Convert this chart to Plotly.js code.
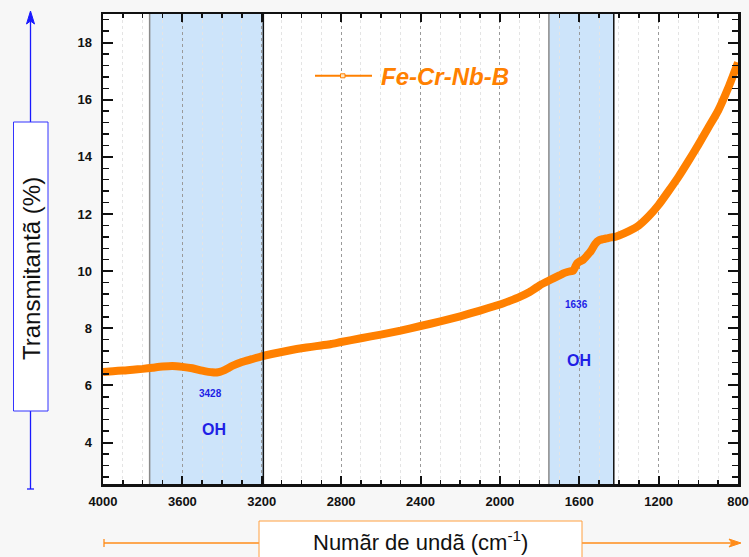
<!DOCTYPE html>
<html>
<head>
<meta charset="utf-8">
<script src="https://cdn.plot.ly/plotly-3.0.1.min.js"></script>
<style>html,body{margin:0;padding:0;background:#f7f7f7;}#chart{width:749px;height:557px;}</style>
</head>
<body>
<div id="chart"></div>
<script>
// ---- data ----
const wavenumber = [4000,3950,3900,3850,3800,3750,3700,3650,3600,3550,3500,3450,3420,3400,3370,3350,3300,3250,3200,3150,3100,3050,3000,2950,2900,2850,2800,2700,2600,2500,2400,2300,2200,2100,2000,1950,1900,1850,1800,1750,1700,1680,1660,1640,1630,1620,1610,1600,1580,1560,1540,1520,1500,1480,1460,1440,1420,1400,1350,1300,1250,1200,1150,1100,1050,1000,950,900,850,800];
const transmittance = [6.47,6.50,6.52,6.55,6.58,6.62,6.66,6.68,6.65,6.60,6.52,6.46,6.46,6.50,6.60,6.68,6.82,6.92,7.02,7.10,7.17,7.24,7.30,7.35,7.40,7.45,7.52,7.65,7.78,7.92,8.08,8.24,8.42,8.62,8.83,8.96,9.10,9.27,9.50,9.68,9.85,9.92,9.97,10.00,10.02,10.15,10.28,10.33,10.40,10.55,10.72,10.95,11.08,11.12,11.15,11.18,11.20,11.25,11.40,11.60,11.92,12.32,12.80,13.30,13.85,14.42,15.02,15.62,16.40,17.30];
const seriesName = 'Fe-Cr-Nb-B';
const bandStart = [3765, 1753];
const bandEnd = [3192, 1426];
const peakLabels = ['3428', '1636'];
const groupLabels = ['OH', 'OH'];
const xTitle = 'Numãr de undã (cm<sup>-1</sup>)';
const yTitle = 'Transmitantã (%)';

// ---- layout helpers (pixel -> paper) ----
const W = 749, H = 557, ML = 103, MR = 11, MT = 14, MB = 73;
const PW = W - ML - MR, PH = H - MT - MB;
const px = v => (v - ML) / PW;
const py = v => (H - MB - v) / PH;

const FONT = 'Liberation Sans, Arial, sans-serif';
const ORANGE = '#ff8000';
const BLUE = '#1f1fe6';
const ARROW_BLUE = '#1a1aff';
const ARROW_OR = '#ff8c1a';

const shapes = [];
const annotations = [];

bandStart.forEach((s, i) => {
  shapes.push({type:'rect', xref:'x', yref:'paper', x0:s, x1:bandEnd[i], y0:0, y1:1,
    fillcolor:'#cde4fa', line:{width:0}, layer:'below'});
  shapes.push({type:'line', xref:'x', yref:'paper', x0:s, x1:s, y0:0, y1:1,
    line:{color:'#8a8a8a', width:1.5}, layer:'below'});
  shapes.push({type:'line', xref:'x', yref:'paper', x0:bandEnd[i], x1:bandEnd[i], y0:0, y1:1,
    line:{color:'#111', width:1.5}, layer:'above'});
});

const seg = (x0, y0, x1, y1, color) => ({type:'line', xref:'paper', yref:'paper',
  x0:px(x0), x1:px(x1), y0:py(y0), y1:py(y1), line:{color:color, width:1.3}});
const tri = (pts, color) => ({type:'path', xref:'paper', yref:'paper',
  path: 'M' + pts.map(p => px(p[0]) + ',' + py(p[1])).join(' L') + ' Z',
  fillcolor:color, line:{color:color, width:1}});

// y-title box and arrow
shapes.push(seg(30.5, 411, 30.5, 489, ARROW_BLUE));
shapes.push(seg(27, 489, 34, 489, ARROW_BLUE));
shapes.push(seg(30.5, 122, 30.5, 20, ARROW_BLUE));
shapes.push(tri([[30.5, 11], [26.5, 24], [30.5, 21], [34.5, 24]], ARROW_BLUE));
shapes.push({type:'rect', xref:'paper', yref:'paper', x0:px(13.5), x1:px(48), y0:py(411), y1:py(122), fillcolor:'#ffffff', line:{color:'#3333ff', width:1}});
annotations.push({xref:'paper', yref:'paper', x:px(31), y:py(269), xanchor:'center', yanchor:'middle', text:yTitle, textangle:-90, showarrow:false,
  font:{family:FONT, size:24, color:'#111'}});

// x-title box and arrow
shapes.push(seg(104, 543, 259, 543, ARROW_OR));
shapes.push(seg(104, 539, 104, 547, ARROW_OR));
shapes.push(seg(582, 543, 733, 543, ARROW_OR));
shapes.push(tri([[741, 543], [729, 539], [732, 543], [729, 547]], ARROW_OR));
shapes.push({type:'rect', xref:'paper', yref:'paper', x0:px(259), x1:px(582), y0:py(521), y1:py(562), fillcolor:'#ffffff', line:{color:'#ffa040', width:1}});
annotations.push({xref:'paper', yref:'paper', x:px(420), y:py(541), xanchor:'center', yanchor:'middle', text:xTitle, showarrow:false,
  font:{family:FONT, size:22, color:'#111'}});

// legend (drawn manually)
shapes.push({type:'line', xref:'paper', yref:'paper', x0:px(315), x1:px(372), y0:py(75.7), y1:py(75.7), line:{color:ORANGE, width:2}});
shapes.push({type:'rect', xref:'paper', yref:'paper', x0:px(340.5), x1:px(345), y0:py(77.8), y1:py(73.8), fillcolor:'#ffe6c2', line:{color:ORANGE, width:1}});
annotations.push({xref:'paper', yref:'paper', x:px(379), y:py(76.5), xanchor:'left', yanchor:'middle', text:seriesName, showarrow:false,
  font:{family:FONT, size:24, color:ORANGE, weight:'bold', style:'italic'}});

// peak labels
const peakPos = [[3460, 5.72], [1616, 8.85]];
const ohPos = [[3440, 4.46], [1600, 6.87]];
peakLabels.forEach((t, i) => {
  annotations.push({xref:'x', yref:'y', x:peakPos[i][0], y:peakPos[i][1], text:t, showarrow:false,
    font:{family:FONT, size:10, color:BLUE, weight:'bold'}});
  annotations.push({xref:'x', yref:'y', x:ohPos[i][0], y:ohPos[i][1], text:groupLabels[i], showarrow:false,
    font:{family:FONT, size:16, color:BLUE, weight:'bold'}});
});

const trace = {x: wavenumber, y: transmittance, type:'scatter', mode:'lines', name: seriesName,
  line:{color:ORANGE, width:8, shape:'spline', smoothing:0.6}, showlegend:false};

const tickfont = {family:FONT, size:13, color:'#111', weight:'bold'};
const layout = {
  width: W, height: H,
  margin:{l:ML, r:MR, t:MT, b:MB, pad:0},
  paper_bgcolor:'#f7f7f7', plot_bgcolor:'#ffffff',
  showlegend:false,
  xaxis:{range:[4000, 800], tick0:0, dtick:400, ticks:'inside', ticklen:8, tickwidth:2, tickcolor:'#111',
    showline:true, linewidth:2.5, linecolor:'#111', mirror:'ticks', zeroline:false,
    showgrid:true, gridcolor:'#9a9a9a', gridwidth:1, griddash:'3px,3px',
    minor:{dtick:100, ticks:'inside', ticklen:4, tickwidth:1.5, tickcolor:'#111', showgrid:true, gridcolor:'#e4e4e4', gridwidth:1},
    tickfont:tickfont, separatethousands:false, ticklabelstandoff:4},
  yaxis:{range:[2.55, 19], tick0:0, dtick:2, ticks:'inside', ticklen:10, tickwidth:2, tickcolor:'#111',
    showline:true, linewidth:2.5, linecolor:'#111', mirror:'ticks', zeroline:false, showgrid:false,
    minor:{dtick:0.4, ticks:'inside', ticklen:6, tickwidth:1.5, tickcolor:'#111', showgrid:false},
    tickfont:tickfont, ticklabelstandoff:6},
  shapes: shapes,
  annotations: annotations
};

Plotly.newPlot('chart', [trace], layout, {staticPlot:true, displayModeBar:false});
</script>
</body>
</html>
